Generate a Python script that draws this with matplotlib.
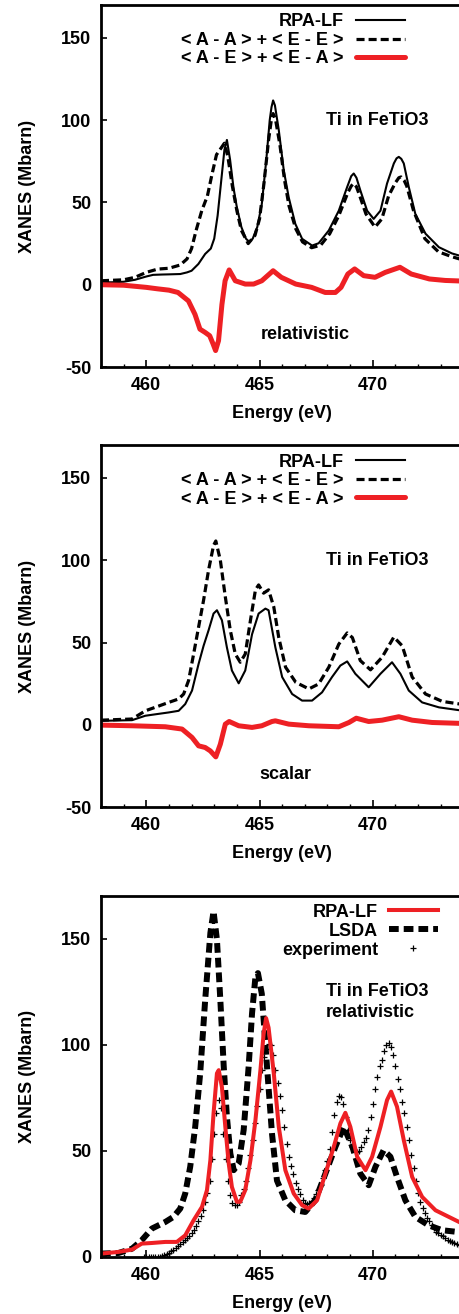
import numpy as np
import matplotlib
matplotlib.use("Agg")
import matplotlib.pyplot as plt
import matplotlib.ticker as ticker

plt.rcParams.update({
    "font.family": ["Liberation Sans", "DejaVu Sans"],
    "font.size": 13,
    "font.weight": "bold",
    "axes.labelweight": "bold",
    "axes.linewidth": 2.0,
    "axes.unicode_minus": False,
    "lines.scale_dashes": False,
    "lines.solid_joinstyle": "round",
    "lines.dash_joinstyle": "round",
    "xtick.direction": "in",
    "ytick.direction": "in",
    "xtick.major.size": 5,
    "xtick.minor.size": 2.5,
    "ytick.major.size": 4.5,
    "xtick.major.width": 1.2,
    "xtick.minor.width": 1.0,
    "ytick.major.width": 1.2,
    "xtick.major.pad": 7,
    "ytick.major.pad": 7,
})

RED = "#ee2024"

# ---- relativistic decomposition (panel 1) ----
rel_rpa_e = [458, 458.5, 459, 459.5, 460, 460.3, 460.7, 461, 461.5, 461.8, 462.0, 462.3, 462.6,
             462.85, 463.0, 463.15, 463.3, 463.45, 463.56, 463.7, 463.85, 464.0, 464.2, 464.4,
             464.55, 464.7, 464.9, 465.1, 465.3, 465.45, 465.53, 465.6, 465.68, 465.85, 466.07,
             466.29, 466.58, 466.88, 467.32, 467.61, 468.06, 468.5, 468.87, 469.05, 469.16, 469.28,
             469.45, 469.75, 470.04, 470.34, 470.63, 470.93, 471.05, 471.15, 471.26, 471.37,
             471.59, 471.88, 472.33, 472.92, 473.5, 474]
rel_rpa = [1.4, 1.5, 1.8, 3.0, 5.0, 6.0, 6.2, 6.3, 6.5, 7.5, 8.5, 12.6, 18.7,
           22, 28, 42, 62, 82, 88, 76, 59, 47, 35, 28,
           26, 28, 35, 49, 76, 100, 108, 112, 109, 94, 69.6,
           53, 37, 27.9, 23.8, 25.2, 33, 45, 59.4, 66, 67.6, 65,
           57.4, 45, 40, 45, 61.5, 73.7, 76.8, 77.7, 76.5, 73.7,
           59.4, 43, 31, 22.8, 19, 17]

rel_aaee_e = [458, 459, 459.5, 460, 460.5, 461, 461.5, 461.8, 462.0, 462.2, 462.45, 462.7, 462.9,
              463.1, 463.3, 463.45, 463.6, 463.8, 464.0, 464.2, 464.5, 464.8, 465.0, 465.2, 465.4,
              465.52, 465.6, 465.7, 465.9, 466.1, 466.3, 466.6, 466.9, 467.3, 467.7, 468.1, 468.5,
              468.9, 469.05, 469.15, 469.28, 469.4, 469.7, 470.1, 470.4, 470.7, 471.0, 471.15,
              471.25, 471.38, 471.5, 471.8, 472.3, 472.9, 473.5, 474]
rel_aaee = [2.4, 3.0, 4.5, 7.5, 9.5, 10, 12, 15.7, 22, 33, 45, 54, 67,
            79, 83, 86, 78, 60, 45, 33, 25, 30, 40, 62, 88,
            100, 104, 101, 85, 64, 48, 34, 26, 22.5, 24, 31, 42,
            56, 60, 61.5, 59.5, 55, 43, 35, 40, 54, 62, 65,
            65.5, 63.5, 60, 45, 28, 20, 17, 15]

rel_aeea_e = [458, 459, 460, 460.5, 461, 461.4, 461.86, 462.15, 462.37, 462.6, 462.8, 462.95,
              463.06, 463.19, 463.34, 463.48, 463.66, 463.93, 464.37, 464.74, 465.1, 465.6,
              465.96, 466.6, 467.3, 467.9, 468.35, 468.6, 468.9, 469.2, 469.6, 470.1, 470.55,
              471.2, 471.7, 472.5, 473.2, 474]
rel_aeea = [0, -0.3, -1.6, -2.5, -3.3, -4.7, -9.8, -18, -27, -29, -31, -36,
            -40, -34, -12, 2.4, 9, 2.4, 0.4, 0.4, 2.4, 8.5,
            4.5, 0.4, -1.6, -4.7, -4.7, -1.6, 6.5, 9.6, 5.5, 4.5, 7.5,
            10.6, 6.5, 3.5, 2.6, 2.2]

# ---- scalar decomposition (panel 2) ----
sc_rpa_e = [458, 459.37, 459.96, 460.47, 460.99, 461.43, 461.72, 462.02, 462.31, 462.53, 462.75,
            462.97, 463.12, 463.34, 463.56, 463.78, 464.08, 464.37, 464.67, 464.96, 465.26,
            465.4, 465.7, 466.0, 466.44, 466.88, 467.32, 467.76, 468.2, 468.57, 468.87, 469.23,
            469.82, 470.34, 470.85, 471.22, 471.59, 472.18, 472.92, 474]
sc_rpa = [2.4, 2.8, 5.5, 6.5, 7.5, 8.5, 12.6, 20.8, 37, 48, 57.4,
          67.6, 69.6, 63.5, 47, 33, 25.2, 33, 55, 67.6, 70.6,
          69.6, 47, 29, 18.7, 14.7, 14.7, 19.7, 29, 36, 38.5, 31,
          22.8, 31, 38, 31, 20.8, 13.6, 10.6, 8.5]

sc_aaee_e = [458, 459.37, 459.96, 460.47, 460.99, 461.43, 461.65, 461.87, 462.09, 462.31, 462.53,
             462.75, 462.97, 463.07, 463.27, 463.49, 463.71, 463.93, 464.15, 464.37, 464.6,
             464.82, 464.96, 465.18, 465.4, 465.63, 465.85, 466.15, 466.6, 467.18, 467.61,
             468.06, 468.5, 468.87, 469.1, 469.45, 469.9, 470.41, 470.93, 471.3, 471.74, 472.33,
             473.07, 474]
sc_aaee = [2.8, 3.5, 8.5, 11, 13.6, 15.7, 18.7, 27, 43, 59.4, 75.7,
           94, 109, 111.7, 100, 77.7, 57.4, 43, 38, 43, 63.5,
           82, 85, 80, 82, 71.6, 53, 35, 25.8, 21.8, 24.8,
           35, 49, 55.8, 53, 39, 33.4, 41, 53.3, 48, 29, 18.7,
           14.2, 12.3]

sc_aeea_e = [458, 459.37, 460.84, 461.58, 462.02, 462.31, 462.6, 462.83, 463.07, 463.27, 463.49,
             463.66, 464.08, 464.67, 465.1, 465.55, 465.7, 466.29, 467.18, 468.5, 468.95, 469.27,
             469.82, 470.41, 471.15, 471.74, 472.62, 474]
sc_aeea = [-0.2, -0.6, -1.2, -2.6, -7.7, -12.8, -13.8, -15.9, -19.5, -11.8, 0.4,
           2, -0.6, -1.6, -0.6, 2, 2.4, 0.4, -0.6, -1.2, 1.4, 4,
           2, 2.8, 4.9, 2.8, 1.4, 0.8]

# ---- comparison with experiment (panel 3) ----
cmp_rpa_e = [458, 458.78, 459.37, 459.8, 460.25, 460.84, 461.35, 461.72, 462.09, 462.46, 462.68,
             462.83, 462.97, 463.12, 463.2, 463.34, 463.49, 463.64, 463.78, 464.0, 464.15, 464.37,
             464.6, 464.82, 465.04, 465.18, 465.29, 465.4, 465.63, 465.85, 466.14, 466.51,
             466.88, 467.17, 467.54, 467.91, 468.28, 468.57, 468.79, 469.01, 469.31, 469.68,
             469.97, 470.34, 470.63, 470.81, 471.07, 471.37, 471.74, 472.18, 472.77, 474]
cmp_rpa = [1.6, 2.4, 3.5, 6.3, 6.6, 7.1, 7.1, 10.2, 17.3, 23.6, 31.5,
           45.6, 67.6, 86.5, 88, 80, 61.3, 44, 33, 26, 26, 31.5,
           45.6, 64.5, 88, 105, 112.5, 108, 86.5, 61.3, 40.9, 29.9,
           24.4, 22.8, 26.7, 39.3, 51.9, 62.9, 67.9, 61.3, 47.2, 40.9,
           47.2, 61.3, 73.9, 77.9, 70.8, 55, 37.7, 28.3, 22, 15.5]

lsda_e = [458, 458.78, 459.37, 459.8, 460.25, 460.84, 461.2, 461.5, 461.72, 461.94, 462.16,
          462.38, 462.6, 462.83, 462.97, 463.12, 463.27, 463.42, 463.56, 463.71, 463.86, 464.08,
          464.3, 464.52, 464.67, 464.82, 464.93, 465.1, 465.33, 465.55, 465.77, 466.14, 466.58,
          467.02, 467.46, 467.91, 468.35, 468.72, 469.1, 469.45, 469.82, 470.12, 470.48, 470.78,
          471.07, 471.44, 471.88, 472.47, 473.07, 474]
lsda = [1.6, 1.9, 3.9, 7.9, 13.4, 16.5, 18.9, 22.8, 29.9, 42.5, 61.3,
        86.5, 121, 152.6, 162.8, 149.4, 121, 89.7, 66, 48.8, 40.9, 44,
        59.8, 89.7, 114.8, 132, 133.7, 124, 89.7, 58.2, 36, 26.7, 22,
        21.2, 26.7, 39.3, 51.9, 61.3, 51.9, 39.3, 33.8, 42.5, 50.3, 47.2,
        37.7, 26.7, 18.9, 14.9, 12.6, 11.5]

exp_e = np.linspace(459.9, 473.8, 140)
exp_y = [0, 0, 0, 0, 0, 0, 0, 0, 0.3, 0.8,
         1.3, 1.8, 2.6, 3.4, 4.3, 5.2, 6.1, 7.0, 7.9, 8.8,
         9.8, 11.2, 12.8, 14.8, 17.0, 19.5, 22, 26, 30, 36,
         46, 58, 68, 74, 70, 58, 46, 36, 29, 25.5,
         24.5, 24.5, 26, 29, 32, 36, 42, 48, 55, 63,
         71, 79, 88, 94, 98, 100.5, 100, 95, 88, 82,
         76, 69, 61, 53, 47, 43, 39, 35, 32, 29.5,
         27, 25.5, 25, 25.5, 26.5, 28, 29.5, 31.5, 34, 37,
         41, 45, 51, 59, 67, 73, 76, 75.5, 72, 66,
         60, 55, 52, 50, 49.5, 50, 52, 54, 56, 60,
         66, 72, 79, 85, 90, 93, 97, 100, 101, 99,
         95, 90, 84, 79, 73, 68, 61, 55, 48, 42,
         36, 30, 26, 23, 20.5, 18.5, 16.8, 15, 13.5, 12,
         11.2, 10.5, 9.7, 9, 8.2, 7.5, 7, 6.5, 6, 5.5]

DECOMP_LABELS = ["RPA-LF", "< A - A > + < E - E >", "< A - E > + < E - A >"]


def style_axes(ax, ylim, yticks):
    ax.set_xlim(458, 474)
    ax.set_ylim(*ylim)
    ax.set_yticks(yticks)
    ax.xaxis.set_major_locator(ticker.MultipleLocator(5))
    ax.xaxis.set_minor_locator(ticker.MultipleLocator(1))
    ax.tick_params(top=False, right=False, which="both")
    ax.set_xlabel("Energy (eV)")
    ax.set_ylabel("XANES (Mbarn)")
    ax.yaxis.set_label_coords(-0.18, 0.5)
    ax.xaxis.set_label_coords(0.5, -0.105)


def draw_key(ax, rows, x_text, x0, x1, ys):
    # gnuplot-style key: right aligned text, sample to the right
    for (label, style), y in zip(rows, ys):
        ax.text(x_text, y, label, transform=ax.transAxes, ha="right", va="center_baseline")
        if style.get("marker"):
            ax.plot([(x0 + x1) / 2], [y], transform=ax.transAxes, clip_on=False, **style)
        else:
            ax.plot([x0, x1], [y, y], transform=ax.transAxes, clip_on=False, **style)


def plot_decomposition(ax, curves, tag):
    solid = dict(color="black", lw=1.5)
    dashed = dict(color="black", lw=2.3, dashes=(5.8, 2.9))
    red = dict(color=RED, lw=3.6, solid_capstyle="round")
    (e1, y1), (e2, y2), (e3, y3) = curves
    ax.plot(e1, y1, **solid)
    ax.plot(e2, y2, **dashed)
    ax.plot(e3, y3, **red)
    style_axes(ax, (-50, 170), [-50, 0, 50, 100, 150])
    draw_key(ax, list(zip(DECOMP_LABELS, [solid, dashed, red])),
             0.6705, 0.7036, 0.8389, [0.9586, 0.9069, 0.8564])
    ax.text(467.93, 100, "Ti in FeTiO3", ha="left", va="center")
    ax.text(467.0 if tag == "relativistic" else 466.15, -30, tag, ha="center", va="center")


def main():
    fig = plt.figure(figsize=(4.59, 13.14), dpi=100)
    ax1 = fig.add_axes([0.2200, 0.7207, 0.7895, 0.2755])
    ax2 = fig.add_axes([0.2200, 0.3858, 0.7895, 0.2755])
    ax3 = fig.add_axes([0.2200, 0.04338, 0.7895, 0.2747])

    plot_decomposition(ax1, [(rel_rpa_e, rel_rpa), (rel_aaee_e, rel_aaee), (rel_aeea_e, rel_aeea)],
                       "relativistic")
    plot_decomposition(ax2, [(sc_rpa_e, sc_rpa), (sc_aaee_e, sc_aaee), (sc_aeea_e, sc_aeea)],
                       "scalar")

    rpa_style = dict(color=RED, lw=2.9)
    lsda_style = dict(color="black", lw=4.3, dashes=(7, 3.6))
    exp_style = dict(color="black", ls="none", marker="+", markersize=4.5, mew=0.9)
    ax3.plot(exp_e, exp_y, **exp_style)
    ax3.plot(lsda_e, lsda, **lsda_style)
    ax3.plot(cmp_rpa_e, cmp_rpa, **rpa_style)
    style_axes(ax3, (0, 170), [0, 50, 100, 150])
    draw_key(ax3, [("RPA-LF", rpa_style), ("LSDA", lsda_style), ("experiment", exp_style)],
             0.7644, 0.7947, 0.930, [0.961, 0.9086, 0.856])
    ax3.text(467.93, 125, "Ti in FeTiO3", ha="left", va="center")
    ax3.text(467.93, 115, "relativistic", ha="left", va="center")

    fig.savefig("out.png", dpi=100)
    plt.close(fig)


if __name__ == "__main__":
    main()
